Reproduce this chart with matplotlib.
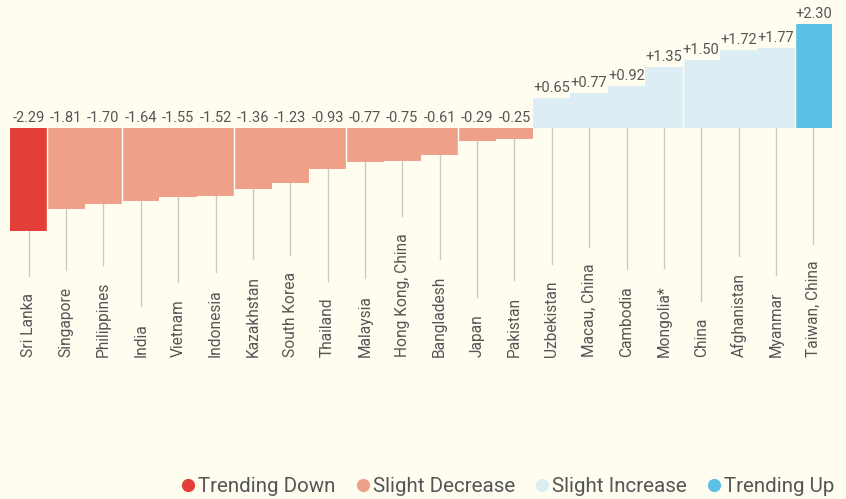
import matplotlib
matplotlib.use("Agg")
import matplotlib.pyplot as plt
from matplotlib.lines import Line2D

# data
countries = ["Sri Lanka", "Singapore", "Philippines", "India", "Vietnam", "Indonesia",
             "Kazakhstan", "South Korea", "Thailand", "Malaysia", "Hong Kong, China",
             "Bangladesh", "Japan", "Pakistan", "Uzbekistan", "Macau, China", "Cambodia",
             "Mongolia*", "China", "Afghanistan", "Myanmar", "Taiwan, China"]
values = [-2.29, -1.81, -1.70, -1.64, -1.55, -1.52, -1.36, -1.23, -0.93, -0.77, -0.75,
          -0.61, -0.29, -0.25, 0.65, 0.77, 0.92, 1.35, 1.50, 1.72, 1.77, 2.30]
trend = ["Trending Down"] + ["Slight Decrease"] * 13 + ["Slight Increase"] * 7 + ["Trending Up"]
categories = ["Trending Down", "Slight Decrease", "Slight Increase", "Trending Up"]
# bars followed by a thin light seam in the original render
seam_after = [0, 2, 5, 8, 11, 17, 20]

colors = {"Trending Down": "#E33E37", "Slight Decrease": "#EFA088",
          "Slight Increase": "#DCEDF3", "Trending Up": "#5CC1E6"}
bg = "#FEFDF0"
text_col = "#555555"
line_col = "#CFCBBC"

plt.rcParams['font.family'] = ['Roboto', 'DejaVu Sans']

W, H, DPI = 846, 499, 100
fig = plt.figure(figsize=(W / DPI, H / DPI), dpi=DPI, facecolor=bg)

# axes covers full height; baseline at 127.5 px from top, 45 px per unit
base_px, ppu = 127.5, 45.0
left_px, right_px = 10, 832
ax = fig.add_axes([left_px / W, 0, (right_px - left_px) / W, 1])
ax.set_facecolor(bg)
ax.set_xlim(-0.5, len(values) - 0.5)
ax.set_ylim(-(H - base_px) / ppu, base_px / ppu)
ax.axis("off")

x = range(len(values))
ax.bar(x, values, width=1.0, color=[colors[t] for t in trend], linewidth=0)

for i in seam_after:
    a, b = values[i], values[i + 1]
    ext = min(a, b) if a < 0 else max(a, b)
    ax.plot([i + 0.5, i + 0.5], [0, ext], color=bg, linewidth=1, zorder=3)

# value labels
for i, v in enumerate(values):
    lab = f"{v:+.2f}" if v > 0 else f"{v:.2f}"
    ax.text(i, max(v, 0) + 3 / ppu, lab, ha="center", va="bottom",
            fontsize=10.5, color=text_col)

# rotated country labels, bottom aligned
label_y = -(357 - base_px) / ppu
tick_texts = []
for i, c in enumerate(countries):
    t = ax.text(i, label_y, c, rotation=90, ha="center", va="bottom",
                fontsize=11.2, color=text_col)
    tick_texts.append(t)

# drop lines from bar end down to just above each label
fig.canvas.draw()
renderer = fig.canvas.get_renderer()
inv = ax.transData.inverted()
for i, (v, t) in enumerate(zip(values, tick_texts)):
    bb = t.get_window_extent(renderer)
    top = inv.transform((0, bb.y1 + 17))[1]
    start = min(v, 0)
    ax.plot([i, i], [start, top], color=line_col, linewidth=1, zorder=0)

handles = [Line2D([], [], marker="o", linestyle="", markersize=9.5,
                  markerfacecolor=colors[c], markeredgewidth=0) for c in categories]
fig.legend(handles, categories, loc="lower right", bbox_to_anchor=(834 / W, 3 / H),
           ncol=4, frameon=False, fontsize=14.8, handlelength=0.65,
           handletextpad=0.15, columnspacing=1.0, borderpad=0, borderaxespad=0,
           labelcolor=text_col)

fig.savefig("out.png", dpi=DPI, facecolor=bg)
